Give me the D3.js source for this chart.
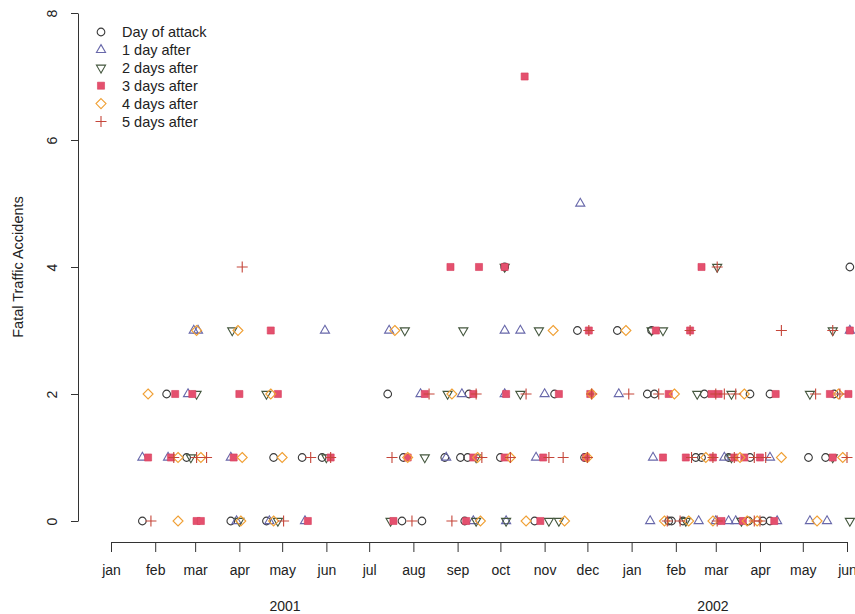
<!DOCTYPE html>
<html>
<head>
<meta charset="utf-8">
<script src="https://cdn.jsdelivr.net/npm/d3@7"></script>
<style>
  body { margin: 0; background: #fff; }
  svg { display: block; font-family: "Liberation Sans", Arial, Helvetica, sans-serif; }
</style>
</head>
<body>
<div id="chart"></div>
<script>
// Fatal traffic accidents around attack dates
const dayOfAttack = [
  ["2001-01-23",0],["2001-03-26",0],["2001-04-20",0],["2001-07-24",0],["2001-08-07",0],["2001-09-06",0],
  ["2001-10-25",0],["2002-01-27",0],["2002-01-29",0],["2002-02-06",0],["2002-03-24",0],["2002-04-03",0],["2002-04-08",0],
  ["2001-02-23",1],["2001-04-25",1],["2001-05-15",1],["2001-05-29",1],["2001-07-25",1],["2001-08-23",1],["2001-09-03",1],
  ["2001-09-08",1],["2001-10-01",1],["2001-11-29",1],["2002-02-15",1],["2002-02-19",1],["2002-03-10",1],["2002-03-25",1],
  ["2002-05-05",1],["2002-05-17",1],
  ["2001-02-09",2],["2001-07-14",2],["2001-09-09",2],["2001-11-08",2],["2002-01-12",2],["2002-01-17",2],["2002-02-21",2],
  ["2002-03-25",2],["2002-04-08",2],["2002-05-23",2],
  ["2001-11-24",3],["2001-12-22",3],["2002-01-15",3],
  ["2001-10-04",4],["2002-06-03",4]
];
const oneDayAfter = [
  ["2001-03-30",0],["2001-04-22",0],["2001-05-17",0],["2001-09-12",0],["2001-10-05",0],["2002-01-14",0],["2002-02-17",0],
  ["2002-03-01",0],["2002-03-10",0],["2002-03-15",0],["2002-04-13",0],["2002-05-06",0],["2002-05-18",0],
  ["2001-01-23",1],["2001-02-10",1],["2001-03-26",1],["2001-08-24",1],["2001-10-26",1],["2002-01-16",1],["2002-03-07",1],["2002-04-08",1],
  ["2001-02-24",2],["2001-08-06",2],["2001-09-04",2],["2001-10-04",2],["2001-11-01",2],["2001-12-23",2],
  ["2001-02-28",3],["2001-03-03",3],["2001-05-31",3],["2001-07-15",3],["2001-10-04",3],["2001-10-15",3],["2002-06-03",3],
  ["2001-11-26",5]
];
const twoDaysAfter = [
  ["2001-04-01",0],["2001-04-28",0],["2001-07-16",0],["2001-09-14",0],["2001-10-05",0],["2001-11-04",0],["2001-11-11",0],
  ["2002-02-08",0],["2002-03-19",0],["2002-06-03",0],
  ["2001-02-26",1],["2001-06-01",1],["2001-08-09",1],["2001-09-14",1],["2002-03-12",1],["2002-05-22",1],
  ["2001-03-02",2],["2001-04-20",2],["2001-08-25",2],["2001-10-15",2],["2002-02-16",2],["2002-03-12",2],["2002-05-06",2],
  ["2001-03-27",3],["2001-07-26",3],["2001-09-05",3],["2001-10-28",3],["2002-01-15",3],["2002-01-23",3],["2002-05-22",3],
  ["2001-10-04",4],["2002-03-02",4]
];
const threeDaysAfter = [
  ["2001-03-02",0],["2001-03-05",0],["2001-05-19",0],["2001-07-18",0],["2001-09-07",0],["2001-10-29",0],["2002-03-05",0],
  ["2002-03-20",0],["2002-04-11",0],
  ["2001-01-27",1],["2001-02-12",1],["2001-03-28",1],["2001-06-04",1],["2001-07-28",1],["2001-09-12",1],["2001-10-04",1],
  ["2001-10-31",1],["2001-11-30",1],["2002-01-23",1],["2002-02-08",1],["2002-02-27",1],["2002-03-14",1],["2002-03-21",1],
  ["2002-04-01",1],["2002-05-22",1],
  ["2001-02-15",2],["2001-02-27",2],["2001-04-01",2],["2001-04-28",2],["2001-08-09",2],["2001-09-12",2],["2001-10-05",2],
  ["2001-11-11",2],["2001-12-03",2],["2002-01-27",2],["2002-02-26",2],["2002-03-03",2],["2002-04-12",2],["2002-05-20",2],["2002-06-02",2],
  ["2001-04-23",3],["2001-12-02",3],["2002-01-18",3],["2002-02-11",3],["2002-06-03",3],
  ["2001-08-27",4],["2001-09-16",4],["2001-10-04",4],["2002-02-19",4],
  ["2001-10-18",7]
];
const fourDaysAfter = [
  ["2001-02-17",0],["2001-04-02",0],["2001-04-25",0],["2001-09-17",0],["2001-10-19",0],["2001-11-15",0],["2002-01-24",0],
  ["2002-02-10",0],["2002-02-27",0],["2002-03-23",0],["2002-03-30",0],["2002-05-11",0],
  ["2001-02-17",1],["2001-03-05",1],["2001-04-03",1],["2001-05-01",1],["2001-07-28",1],["2001-09-15",1],["2001-10-08",1],
  ["2001-12-01",1],["2002-02-22",1],["2002-03-18",1],["2002-04-16",1],["2002-05-29",1],
  ["2001-01-27",2],["2001-04-23",2],["2001-08-28",2],["2001-12-04",2],["2002-01-31",2],["2002-03-21",2],["2002-05-26",2],
  ["2001-03-02",3],["2001-03-31",3],["2001-07-19",3],["2001-11-07",3],["2001-12-28",3]
];
const fiveDaysAfter = [
  ["2001-01-29",0],["2001-05-02",0],["2001-07-31",0],["2001-08-28",0],["2002-01-26",0],["2002-02-04",0],["2002-03-02",0],
  ["2002-03-28",0],["2002-04-01",0],
  ["2001-02-14",1],["2001-03-02",1],["2001-03-09",1],["2001-05-21",1],["2001-06-04",1],["2001-07-17",1],["2001-09-18",1],
  ["2001-10-08",1],["2001-11-04",1],["2001-11-14",1],["2001-12-01",1],["2002-02-12",1],["2002-02-27",1],["2002-03-14",1],
  ["2002-03-28",1],["2002-04-05",1],["2002-06-01",1],
  ["2001-08-12",2],["2001-09-14",2],["2001-10-19",2],["2001-12-04",2],["2001-12-30",2],["2002-01-20",2],["2002-03-01",2],
  ["2002-03-07",2],["2002-03-15",2],["2002-05-10",2],["2002-05-27",2],
  ["2001-12-02",3],["2002-02-11",3],["2002-04-16",3],["2002-05-22",3],
  ["2001-04-03",4],["2002-03-02",4]
];

const seriesNames = ["Day of attack", "1 day after", "2 days after", "3 days after", "4 days after", "5 days after"];
const seriesData = [dayOfAttack, oneDayAfter, twoDaysAfter, threeDaysAfter, fourDaysAfter, fiveDaysAfter];
const seriesColors = ["#3a3a3a", "#6868aa", "#44573e", "#e4506e", "#f0a035", "#c5463a"];
const yTicks = [0, 2, 4, 6, 8];
const yearLabels = [["2001", "2001-05-03"], ["2002", "2002-02-27"]];

const width = 855, height = 614;
const parse = d3.utcParse("%Y-%m-%d");

const x = d3.scaleUtc()
  .domain([parse("2001-01-01"), parse("2002-06-01")])
  .range([111, 847]);
const y = d3.scaleLinear().domain([0, 8]).range([521, 13]);

const svg = d3.select("#chart")
  .append("svg")
  .attr("width", width)
  .attr("height", height)
  .attr("viewBox", `0 0 ${width} ${height}`);

// marker shapes, R-style (pch 1, 2, 6, 15, 5, 3)
const circlePath = d3.symbol().type(d3.symbolCircle).size(46)();
const triPath = d3.symbol().type(d3.symbolTriangle).size(36)();
const squarePath = d3.symbol().type(d3.symbolSquare).size(50)();
const diamondPath = "M0,-5L5,0L0,5L-5,0Z";
const plusPath = "M-5.5,0H5.5M0,-5.5V5.5";

function drawMarker(g, i) {
  const c = seriesColors[i];
  if (i === 0) g.append("path").attr("d", circlePath).attr("fill", "none").attr("stroke", c);
  if (i === 1) g.append("path").attr("d", triPath).attr("fill", "none").attr("stroke", c);
  if (i === 2) g.append("path").attr("d", triPath).attr("transform", "rotate(180)").attr("fill", "none").attr("stroke", c);
  if (i === 3) g.append("path").attr("d", squarePath).attr("fill", c).attr("stroke", "#d8405e").attr("stroke-width", 0.6);
  if (i === 4) g.append("path").attr("d", diamondPath).attr("fill", "none").attr("stroke", c);
  if (i === 5) g.append("path").attr("d", plusPath).attr("fill", "none").attr("stroke", c);
  g.selectAll("path").filter(function () { return !this.getAttribute("stroke-width"); }).attr("stroke-width", 1.1);
}

// points
seriesData.forEach((data, i) => {
  svg.append("g")
    .selectAll("g")
    .data(data)
    .join("g")
    .attr("transform", d => `translate(${x(parse(d[0]))},${y(d[1])})`)
    .each(function () { drawMarker(d3.select(this), i); });
});

// y axis
const yAxis = svg.append("g")
  .attr("transform", "translate(78,0)")
  .call(d3.axisLeft(y).tickValues(yTicks).tickSize(7).tickSizeOuter(0));
yAxis.select(".domain").attr("stroke", "#333");
yAxis.selectAll(".tick line").attr("stroke", "#333");
yAxis.selectAll(".tick text")
  .attr("x", 0).attr("dy", 0)
  .attr("transform", "translate(-21,0) rotate(-90)")
  .attr("text-anchor", "middle")
  .attr("font-size", 14).attr("fill", "#222")
  .attr("font-family", "Liberation Sans, Arial, sans-serif");

svg.append("text")
  .attr("transform", "translate(23,267) rotate(-90)")
  .attr("text-anchor", "middle")
  .attr("font-size", 14.5)
  .attr("fill", "#222")
  .text("Fatal Traffic Accidents");

// x axis
const months = d3.utcMonth.range(parse("2001-01-01"), parse("2002-06-02"));
const monthFmt = d3.utcFormat("%b");
const xAxis = svg.append("g")
  .attr("transform", "translate(0,542)")
  .call(d3.axisBottom(x).tickValues(months).tickFormat(d => monthFmt(d).toLowerCase()).tickSize(10).tickSizeOuter(0));
xAxis.select(".domain").attr("stroke", "#333");
xAxis.selectAll(".tick line").attr("stroke", "#333");
xAxis.selectAll(".tick text")
  .attr("y", 0).attr("dy", 0)
  .attr("transform", "translate(0,33)")
  .attr("font-size", 14).attr("fill", "#222")
  .attr("font-family", "Liberation Sans, Arial, sans-serif");

svg.append("g")
  .selectAll("text")
  .data(yearLabels)
  .join("text")
  .attr("x", d => x(parse(d[1])))
  .attr("y", 611)
  .attr("text-anchor", "middle")
  .attr("font-size", 14)
  .attr("fill", "#222")
  .text(d => d[0]);

// legend
const legend = svg.append("g").attr("transform", "translate(101,32)");
seriesNames.forEach((name, i) => {
  const row = legend.append("g").attr("transform", `translate(0,${i * 17.9})`);
  drawMarker(row.append("g"), i);
  row.append("text")
    .attr("x", 21)
    .attr("dy", "0.35em")
    .attr("font-size", 14.5)
    .attr("fill", "#222")
    .text(name);
});
</script>
</body>
</html>
